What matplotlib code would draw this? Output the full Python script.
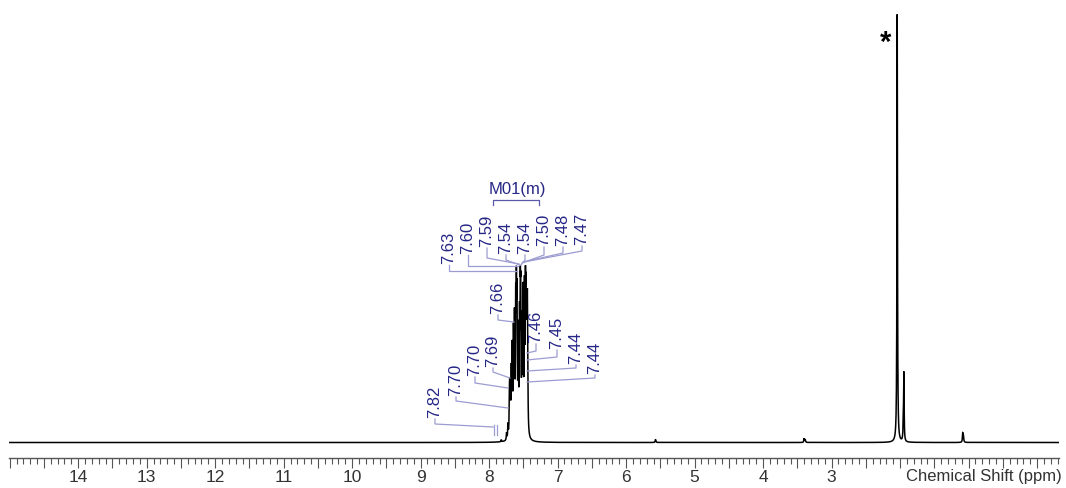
import numpy as np
import matplotlib
matplotlib.use('Agg')
import matplotlib.pyplot as plt
from matplotlib.transforms import Affine2D
from matplotlib.ticker import MultipleLocator, FuncFormatter

plt.rcParams['font.family'] = ['Liberation Sans', 'DejaVu Sans']

# ---------------- data ----------------
# peak centres (ppm), heights (relative intensity, baseline = 0) and half widths (ppm)
aromatic_ppm = [7.822, 7.745, 7.725, 7.704, 7.699, 7.690, 7.676, 7.662, 7.645, 7.630,
                7.612, 7.602, 7.593, 7.575, 7.556, 7.545, 7.538, 7.520, 7.503, 7.484,
                7.470, 7.462, 7.452, 7.443, 7.438]
aromatic_height = [2, 7, 14, 31, 35, 44, 60, 83, 97, 110,
                   119, 122, 119, 97, 104, 115, 115, 104, 136, 136,
                   123, 108, 95, 86, 79]
aromatic_hwhm = 0.0045

other_ppm = [5.570, 3.400, 3.385, 2.042, 1.952, 1.944, 1.085, 1.075]
other_height = [3, 4, 3, 428, 22, 64, 9, 6]
other_hwhm = [0.006, 0.005, 0.005, 0.0045, 0.005, 0.004, 0.005, 0.005]

peak_labels = ['7.63', '7.60', '7.59', '7.54', '7.54', '7.50', '7.48', '7.47',
               '7.66', '7.46', '7.45', '7.44', '7.44',
               '7.69', '7.70', '7.70', '7.82']
multiplet_label = 'M01(m)'
solvent_mark = '*'
axis_title = 'Chemical Shift (ppm)'
labelled_ticks = list(range(3, 15))

# ---------------- layout (reference-pixel coordinates) ----------------
# text centre x, text bottom y, knee y, end x, end y
label_layout = [
    (449, 264, 271, 517, 271),
    (468, 254, 266, 518, 266),
    (487, 247, 258, 519, 264),
    (506, 254, 260, 520, 265),
    (525, 254, 260, 521, 265),
    (544, 246, 255, 522, 263),
    (563, 246, 253, 523, 262),
    (582, 245, 251, 524, 262),
    (498, 314, 320, 514, 322),
    (536, 343, 351, 527, 353),
    (557, 349, 357, 527, 360),
    (576, 364, 368, 527, 371),
    (595, 374, 378, 527, 382),
    (493, 367, 372, 510, 378),
    (475, 376, 383, 508, 388),
    (456, 396, 401, 508, 408),
    (435, 418, 424, 493, 427),
]

W, H = 1066, 488
fig = plt.figure(figsize=(W / 100, H / 100), dpi=100)
ax = fig.add_axes([9 / W, 1 - 457.5 / H, 1050 / W, (457.5 - 12) / H])

ppm = np.arange(-0.32, 15.01, 0.0005)
spec = np.zeros_like(ppm)
for p, h in zip(aromatic_ppm, aromatic_height):
    spec += h * aromatic_hwhm ** 2 / (aromatic_hwhm ** 2 + (ppm - p) ** 2)
for p, h, w in zip(other_ppm, other_height, other_hwhm):
    spec += h * w ** 2 / (w ** 2 + (ppm - p) ** 2)

ax.plot(ppm, spec, color='black', lw=1.1, solid_joinstyle='miter')
ax.set_xlim(15.01, -0.32)
ax.set_ylim(-15, 430.5)

for s in ['left', 'right', 'top']:
    ax.spines[s].set_visible(False)
ax.spines['bottom'].set_color('#555555')
ax.spines['bottom'].set_linewidth(1.0)
ax.set_yticks([])
ax.xaxis.set_major_locator(MultipleLocator(0.5))
ax.xaxis.set_minor_locator(MultipleLocator(0.1))


def fmt(v, pos):
    r = int(round(v))
    if abs(v - r) < 1e-6 and r in labelled_ticks:
        return str(r)
    return ''


ax.xaxis.set_major_formatter(FuncFormatter(fmt))
ax.tick_params(axis='x', which='major', length=7, width=0.8, color='#555555',
               labelsize=12.5, labelcolor='#333333', pad=2)
ax.tick_params(axis='x', which='minor', length=4.5, width=0.8, color='#555555')

# reference-pixel transform
T = Affine2D().scale(1 / W, -1 / H).translate(0, 1) + fig.transFigure

txt_color = '#262686'
line_color = '#9c9cd2'
for lab, (tx, tb, ky, ex, ey) in zip(peak_labels, label_layout):
    fig.text(tx, tb, lab, transform=T, rotation=90, ha='center', va='bottom',
             fontsize=12, color=txt_color)
    fig.add_artist(plt.Line2D([tx, tx, ex], [tb + 1, ky, ey], transform=T,
                              color=line_color, lw=0.9))

# small tick marks at the 7.82 connector end
for xx in (494, 497):
    fig.add_artist(plt.Line2D([xx, xx], [425, 435], transform=T, color=line_color, lw=0.9))

# multiplet bracket and label
fig.add_artist(plt.Line2D([493, 493, 539, 539], [205, 200, 200, 205], transform=T,
                          color='#5a5aa8', lw=0.9))
fig.text(517, 197, multiplet_label, transform=T, ha='center', va='bottom',
         fontsize=12, color=txt_color)

# solvent mark
fig.text(886, 43, solvent_mark, transform=T, ha='center', va='center',
         fontsize=21, fontweight='bold', color='black')

# axis title
fig.text(1062, 477, axis_title, transform=T, ha='right', va='center',
         fontsize=12, color='#333333')

fig.savefig('out.png', dpi=100)
